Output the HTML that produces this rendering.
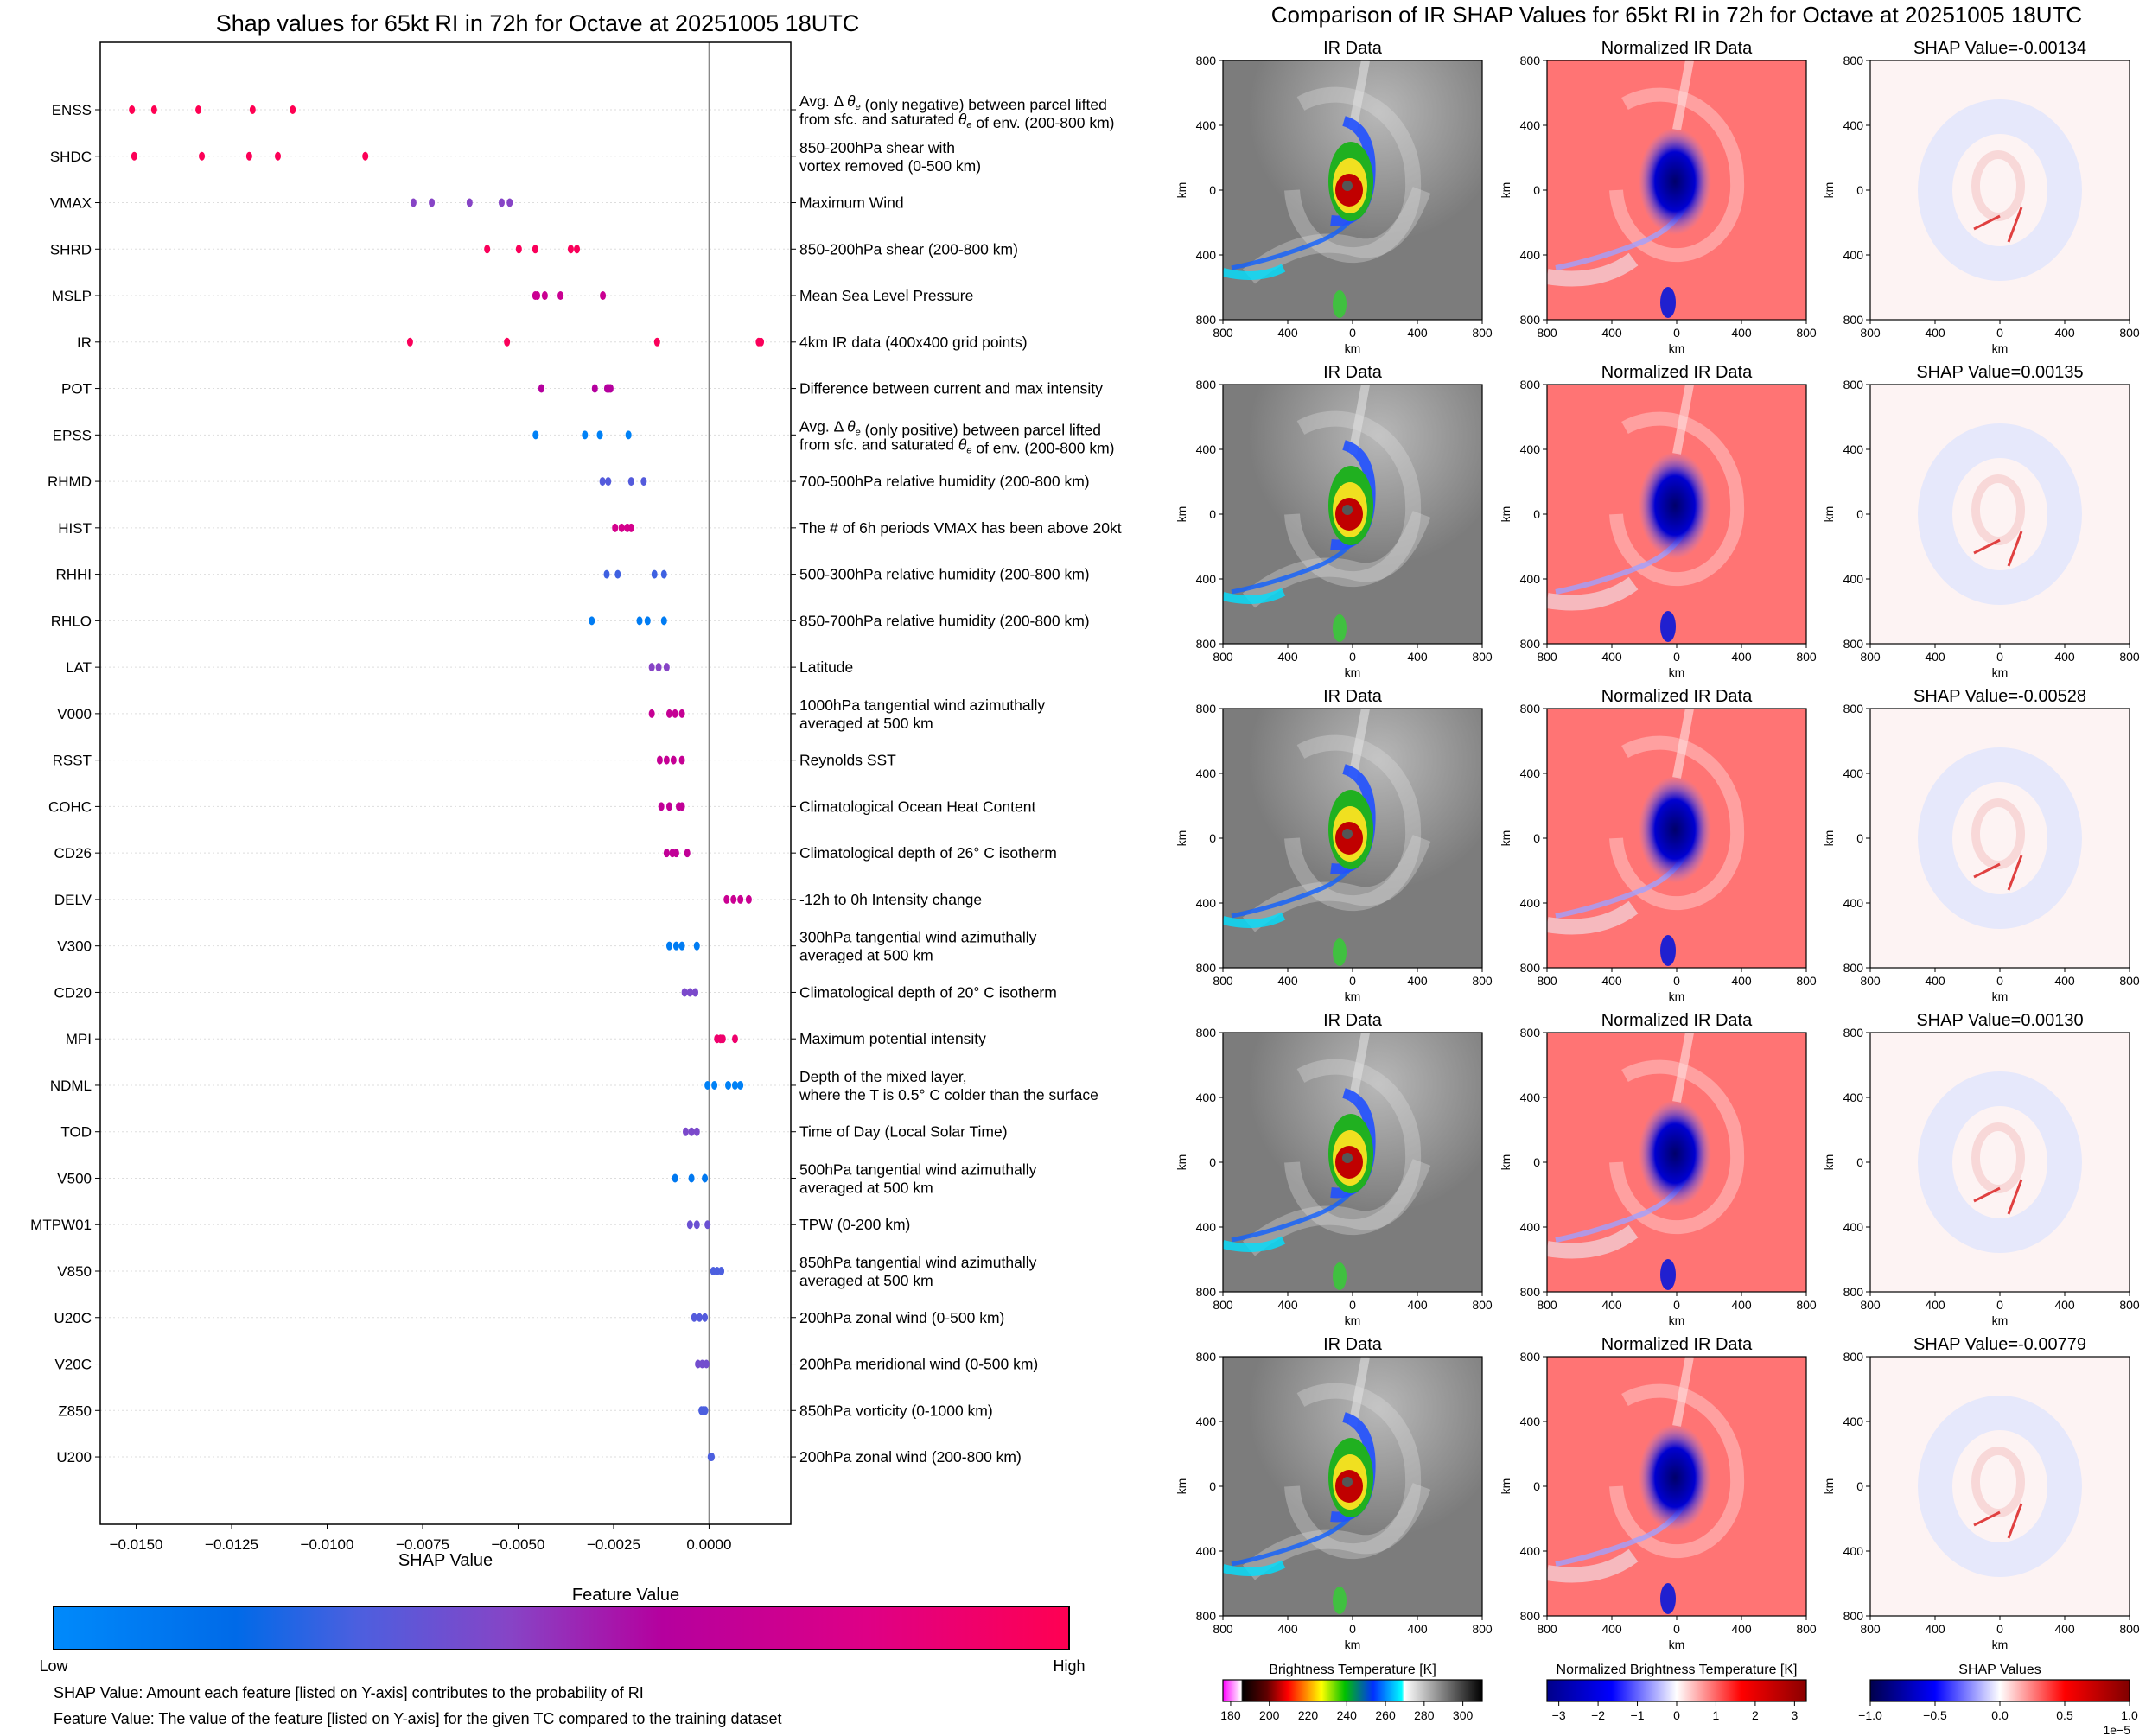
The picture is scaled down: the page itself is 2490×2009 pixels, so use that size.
<!DOCTYPE html>
<html><head><meta charset="utf-8"><style>
html,body{margin:0;padding:0;background:#fff;}
svg{display:block;font-family:"Liberation Sans","DejaVu Sans",sans-serif;}
</style></head><body>
<svg id="root" width="2490" height="2009" viewBox="0 0 2490 2009" xmlns="http://www.w3.org/2000/svg">
<defs>
 <linearGradient id="fvgrad" x1="0" x2="1" y1="0" y2="0">
  <stop offset="0" stop-color="#008afb"/><stop offset="0.18" stop-color="#006ae8"/>
  <stop offset="0.3" stop-color="#4c5fdf"/><stop offset="0.45" stop-color="#8744c6"/>
  <stop offset="0.6" stop-color="#b5009e"/><stop offset="0.8" stop-color="#de0086"/>
  <stop offset="1" stop-color="#ff0052"/>
 </linearGradient>
 <linearGradient id="irgrad" x1="0" x2="1">
  <stop offset="0" stop-color="#ff00ff"/><stop offset="0.07" stop-color="#ffffff"/>
  <stop offset="0.075" stop-color="#000"/><stop offset="0.17" stop-color="#600000"/>
  <stop offset="0.25" stop-color="#ff0000"/><stop offset="0.38" stop-color="#ffff00"/>
  <stop offset="0.47" stop-color="#00c000"/><stop offset="0.58" stop-color="#0030ff"/>
  <stop offset="0.69" stop-color="#00ffff"/><stop offset="0.7" stop-color="#ffffff"/>
  <stop offset="1" stop-color="#000"/>
 </linearGradient>
 <linearGradient id="nrgrad" x1="0" x2="1">
  <stop offset="0" stop-color="#00008a"/><stop offset="0.25" stop-color="#0000ff"/>
  <stop offset="0.5" stop-color="#ffffff"/><stop offset="0.75" stop-color="#ff0000"/>
  <stop offset="1" stop-color="#8a0000"/>
 </linearGradient>
 <linearGradient id="shgrad" x1="0" x2="1">
  <stop offset="0" stop-color="#00004c"/><stop offset="0.25" stop-color="#0000ff"/>
  <stop offset="0.5" stop-color="#ffffff"/><stop offset="0.75" stop-color="#ff0000"/>
  <stop offset="1" stop-color="#800000"/>
 </linearGradient>
 <radialGradient id="irlight" cx="0.6" cy="0.2" r="0.5"><stop offset="0" stop-color="#b8b8b8"/><stop offset="1" stop-color="#b8b8b8" stop-opacity="0"/></radialGradient>
 <radialGradient id="nblue" cx="0.5" cy="0.5" r="0.5"><stop offset="0" stop-color="#00006a"/><stop offset="0.55" stop-color="#0000d0"/><stop offset="1" stop-color="#8080ff" stop-opacity="0"/></radialGradient>
 <symbol id="sym-ir" viewBox="0 0 300 300">
  <rect width="300" height="300" fill="#7c7c7c"/>
  <rect width="300" height="300" fill="url(#irlight)"/>
  <path d="M150 150 m-70 0 a70 80 0 1 0 140 -10 a90 100 0 0 0 -130 -90" fill="none" stroke="#dedede" stroke-width="18" opacity="0.35"/>
  <path d="M30 250 Q90 200 150 215 Q200 230 230 150" fill="none" stroke="#dcdcdc" stroke-width="22" opacity="0.35"/>
  <path d="M165 0 L150 80" stroke="#e0e0e0" stroke-width="10" opacity="0.6"/>
  <path d="M10 240 Q60 230 110 210 Q160 190 170 140" fill="none" stroke="#1060ff" stroke-width="5" opacity="0.8"/>
  <path d="M0 245 Q40 255 70 240" fill="none" stroke="#00e0ff" stroke-width="10" opacity="0.8"/>
  <path d="M140 70 Q175 80 170 140 Q165 190 125 185" fill="none" stroke="#2050ff" stroke-width="12" opacity="0.9"/>
  <ellipse cx="148" cy="140" rx="26" ry="46" fill="#20b020"/>
  <ellipse cx="147" cy="145" rx="20" ry="32" fill="#f0e020"/>
  <ellipse cx="146" cy="150" rx="16" ry="19" fill="#c00000"/>
  <circle cx="144" cy="145" r="6" fill="#555"/>
  <ellipse cx="135" cy="282" rx="8" ry="16" fill="#40c040"/>
 </symbol>
 <symbol id="sym-nr" viewBox="0 0 300 300">
  <rect width="300" height="300" fill="#ff7474"/>
  <path d="M150 150 m-70 0 a70 80 0 1 0 140 -10 a90 100 0 0 0 -130 -90" fill="none" stroke="#ffd8d8" stroke-width="16" opacity="0.45"/>
  <path d="M10 240 Q60 230 110 210 Q160 190 170 140" fill="none" stroke="#a0a0ff" stroke-width="6" opacity="0.8"/>
  <path d="M0 250 Q60 260 100 230" fill="none" stroke="#f0e8f0" stroke-width="18" opacity="0.6"/>
  <path d="M165 0 L150 80" stroke="#ffe0e0" stroke-width="10" opacity="0.6"/>
  <ellipse cx="148" cy="140" rx="42" ry="62" fill="url(#nblue)"/>
  <ellipse cx="140" cy="280" rx="9" ry="18" fill="#2020d0"/>
 </symbol>
 <symbol id="sym-sh" viewBox="0 0 300 300">
  <rect width="300" height="300" fill="#fdf3f3"/>
  <ellipse cx="150" cy="150" rx="75" ry="85" fill="none" stroke="#e6e8fb" stroke-width="40"/>
  <ellipse cx="148" cy="145" rx="26" ry="36" fill="none" stroke="#f8d8d8" stroke-width="10"/>
  <path d="M120 195 L150 180 M160 210 L175 170" stroke="#e04040" stroke-width="3"/>
 </symbol>
</defs>

<text x="622" y="36" font-size="27" text-anchor="middle">Shap values for 65kt RI in 72h for Octave at 20251005 18UTC</text>
<g id="chart"></g>

<text x="724" y="1852" font-size="20" text-anchor="middle">Feature Value</text>
<rect x="62" y="1859" width="1175" height="50" fill="url(#fvgrad)" stroke="#000" stroke-width="2"/>
<text x="62" y="1934" font-size="18" text-anchor="middle">Low</text>
<text x="1237" y="1934" font-size="18" text-anchor="middle">High</text>
<text x="62" y="1965" font-size="18">SHAP Value: Amount each feature [listed on Y-axis] contributes to the probability of RI</text>
<text x="62" y="1995" font-size="18">Feature Value: The value of the feature [listed on Y-axis] for the given TC compared to the training dataset</text>

<text x="1940" y="26" font-size="26" text-anchor="middle">Comparison of IR SHAP Values for 65kt RI in 72h for Octave at 20251005 18UTC</text>
<g id="panels"></g>
<g id="cbars"></g>
</svg>
<script>
const features=["ENSS","SHDC","VMAX","SHRD","MSLP","IR","POT","EPSS","RHMD","HIST","RHHI","RHLO","LAT","V000","RSST","COHC","CD26","DELV","V300","CD20","MPI","NDML","TOD","V500","MTPW01","V850","U20C","V20C","Z850","U200"];
const descriptions=[
["Avg. Δ θe (only negative) between parcel lifted","from sfc. and saturated θe of env. (200-800 km)"],
["850-200hPa shear with","vortex removed (0-500 km)"],["Maximum Wind"],["850-200hPa shear (200-800 km)"],["Mean Sea Level Pressure"],
["4km IR data (400x400 grid points)"],["Difference between current and max intensity"],
["Avg. Δ θe (only positive) between parcel lifted","from sfc. and saturated θe of env. (200-800 km)"],
["700-500hPa relative humidity (200-800 km)"],["The # of 6h periods VMAX has been above 20kt"],["500-300hPa relative humidity (200-800 km)"],
["850-700hPa relative humidity (200-800 km)"],["Latitude"],["1000hPa tangential wind azimuthally","averaged at 500 km"],["Reynolds SST"],
["Climatological Ocean Heat Content"],["Climatological depth of 26° C isotherm"],["-12h to 0h Intensity change"],
["300hPa tangential wind azimuthally","averaged at 500 km"],["Climatological depth of 20° C isotherm"],["Maximum potential intensity"],
["Depth of the mixed layer,","where the T is 0.5° C colder than the surface"],["Time of Day (Local Solar Time)"],
["500hPa tangential wind azimuthally","averaged at 500 km"],["TPW (0-200 km)"],["850hPa tangential wind azimuthally","averaged at 500 km"],
["200hPa zonal wind (0-500 km)"],["200hPa meridional wind (0-500 km)"],["850hPa vorticity (0-1000 km)"],["200hPa zonal wind (200-800 km)"]];
const shapValues=[
[-0.01511,-0.01453,-0.01337,-0.01195,-0.01090],[-0.01505,-0.01328,-0.01204,-0.01129,-0.00900],
[-0.00774,-0.00726,-0.00627,-0.00543,-0.00522],[-0.00581,-0.00498,-0.00455,-0.00362,-0.00346],
[-0.00455,-0.00450,-0.00430,-0.00389,-0.00278],[-0.00783,-0.00529,-0.00136,0.00130,0.00136],
[-0.00439,-0.00299,-0.00267,-0.00262,-0.00258],[-0.00454,-0.00325,-0.00286,-0.00211],
[-0.00279,-0.00264,-0.00204,-0.00171],[-0.00246,-0.00229,-0.00214,-0.00204],
[-0.00268,-0.00239,-0.00143,-0.00118],[-0.00307,-0.00182,-0.00161,-0.00118],
[-0.00150,-0.00132,-0.00111],[-0.00150,-0.00104,-0.00089,-0.00071],[-0.00129,-0.00111,-0.00093,-0.00071],
[-0.00125,-0.00104,-0.00079,-0.00071],[-0.00111,-0.00096,-0.00086,-0.00057],[0.00046,0.00064,0.00082,0.00104],
[-0.00104,-0.00086,-0.00071,-0.00032],[-0.00064,-0.00050,-0.00036],[0.00021,0.00030,0.00036,0.00068],
[-0.00004,0.00014,0.00050,0.00068,0.00082],[-0.00061,-0.00046,-0.00032],[-0.00089,-0.00046,-0.00011],
[-0.00050,-0.00032,-0.00004],[0.00011,0.00021,0.00032],[-0.00039,-0.00025,-0.00011],
[-0.00029,-0.00018,-0.00007],[-0.00020,-0.00016,-0.00010],[0.00004,0.00007]];
const featureValues=[1,0.98,0.45,0.97,0.7,0.97,0.6,0.05,0.32,0.75,0.28,0.08,0.45,0.68,0.68,0.66,0.66,0.7,0.08,0.42,0.9,0.05,0.42,0.1,0.38,0.3,0.32,0.4,0.3,0.3];
const xTicks=[-0.015,-0.0125,-0.01,-0.0075,-0.005,-0.0025,0];
const xTickLabels=["−0.0150","−0.0125","−0.0100","−0.0075","−0.0050","−0.0025","0.0000"];
const cbIRTicks=[180,200,220,240,260,280,300];
const cbNRTicks=[-3,-2,-1,0,1,2,3];
const cbSHTicks=[-1.0,-0.5,0.0,0.5,1.0];
const panelShap=["-0.00134","0.00135","-0.00528","0.00130","-0.00779"];

const NS="http://www.w3.org/2000/svg";
function mk(tag,attrs,parent,txt){const e=document.createElementNS(NS,tag);for(const k in attrs)e.setAttribute(k,attrs[k]);if(txt!==undefined)e.textContent=txt;parent.appendChild(e);return e;}
const AX={l:116,r:915,t:49,b:1764};
const xMin=-0.01594,xMax=0.00214;
function xs(v){return AX.l+(v-xMin)/(xMax-xMin)*(AX.r-AX.l);}
function ys(i){return 127+i*53.76;}
const stops=[[0,[0,138,251]],[0.18,[0,106,232]],[0.3,[76,95,223]],[0.45,[135,68,198]],[0.6,[181,0,158]],[0.8,[222,0,134]],[1,[255,0,82]]];
function cmap(t){for(let i=1;i<stops.length;i++){if(t<=stops[i][0]){const a=stops[i-1],b=stops[i];const f=(t-a[0])/(b[0]-a[0]);const c=a[1].map((v,k)=>Math.round(v+(b[1][k]-v)*f));return `rgb(${c})`;}}return "rgb(255,0,82)";}

const ch=document.getElementById('chart');
features.forEach((f,i)=>{
 const y=ys(i);
 const g=mk('line',{x1:AX.l,x2:AX.r,y1:y,y2:y,stroke:'#ddd','stroke-width':1,'stroke-dasharray':'2,3'},ch);
 
 
});
const zl=mk('line',{x1:xs(0),x2:xs(0),y1:AX.t,y2:AX.b,stroke:'#888','stroke-width':1.5},ch);


const fr=mk('rect',{x:AX.l,y:AX.t,width:AX.r-AX.l,height:AX.b-AX.t,fill:'none',stroke:'#000','stroke-width':1.5},ch);


features.forEach((f,i)=>{
 const y=ys(i);
 mk('line',{x1:AX.l-6,x2:AX.l,y1:y,y2:y,stroke:'#000'},ch);
 mk('line',{x1:AX.r,x2:AX.r+6,y1:y,y2:y,stroke:'#000'},ch);
 const t=mk('text',{x:AX.l-10,y:y+6,'font-size':17,'text-anchor':'end'},ch,f);
 
 
 const lines=descriptions[i];
 const y0=lines.length==1?y+6:y-4;
 lines.forEach((ln,j)=>{
  const tx=mk('text',{x:AX.r+10,y:y0+j*21,'font-size':17.5},ch);
  
  
  const parts=ln.split('θe');
  parts.forEach((p,k)=>{
   const s=document.createElementNS(NS,'tspan');s.textContent=p;tx.appendChild(s);
   if(k<parts.length-1){mk('tspan',{'font-style':'italic'},tx,'θ');mk('tspan',{'font-size':11,dy:4,'font-style':'italic'},tx,'e');mk('tspan',{dy:-4},tx,'');}
  });
 });
 shapValues[i].forEach((v,j)=>{
  const c=mk('ellipse',{cx:xs(v),cy:y,rx:3.5,ry:5,fill:cmap(featureValues[i])},ch);
  
  
 });
});
xTicks.forEach((v,i)=>{
 const x=xs(v);
 mk('line',{x1:x,x2:x,y1:AX.b,y2:AX.b+6,stroke:'#000'},ch);
 const t=mk('text',{x:x,y:AX.b+29,'font-size':17,'text-anchor':'middle'},ch,xTickLabels[i]);
 
 
});
const xl=mk('text',{x:(AX.l+AX.r)/2,y:1812,'font-size':20,'text-anchor':'middle'},ch,'SHAP Value');



const pg=document.getElementById('panels');
const colsX=[1415,1790,2164], titles=["IR Data","Normalized IR Data"], syms=["sym-ir","sym-nr","sym-sh"];
const tickLbl=["800","400","0","400","800"];
for(let r=0;r<5;r++){
 const top=70+r*375;
 for(let c=0;c<3;c++){
  const x0=colsX[c];
  const u=mk('use',{href:'#'+syms[c],x:x0,y:top,width:300,height:300},pg);
  
  
  mk('rect',{x:x0,y:top,width:300,height:300,fill:'none',stroke:'#000','stroke-width':1.2},pg);
  const ttl=c<2?titles[c]:'SHAP Value='+panelShap[r];
  const t=mk('text',{x:x0+150,y:top-8,'font-size':20,'text-anchor':'middle'},pg,ttl);
  
  
  for(let k=0;k<5;k++){
   const p=k*75;
   mk('line',{x1:x0-5,x2:x0,y1:top+p,y2:top+p,stroke:'#000'},pg);
   mk('text',{x:x0-8,y:top+p+5,'font-size':14,'text-anchor':'end'},pg,tickLbl[k]);
   mk('line',{x1:x0+p,x2:x0+p,y1:top+300,y2:top+305,stroke:'#000'},pg);
   mk('text',{x:x0+p,y:top+320,'font-size':14,'text-anchor':'middle'},pg,tickLbl[k]);
  }
  mk('text',{x:x0+150,y:top+338,'font-size':14,'text-anchor':'middle'},pg,'km');
  mk('text',{x:x0-43,y:top+150,'font-size':14,'text-anchor':'middle',transform:`rotate(-90 ${x0-43} ${top+150})`},pg,'km');
 }
}
const cb=document.getElementById('cbars');
const cbDefs=[[1415,'url(#irgrad)','Brightness Temperature [K]',cbIRTicks,176,310,v=>String(v)],
 [1790,'url(#nrgrad)','Normalized Brightness Temperature [K]',cbNRTicks,-3.3,3.3,v=>v<0?'−'+(-v):String(v)],
 [2164,'url(#shgrad)','SHAP Values',cbSHTicks,-1,1,v=>v<0?'−'+(-v).toFixed(1):v.toFixed(1)]];
cbDefs.forEach((d,i)=>{
 const [x0,fill,title,ticks,lo,hi,fmt]=d;
 const t=mk('text',{x:x0+150,y:1937,'font-size':16,'text-anchor':'middle'},cb,title);
 
 
 const r=mk('rect',{x:x0,y:1944,width:300,height:25,fill:fill,stroke:'#000','stroke-width':1.2},cb);
 
 
 ticks.forEach(v=>{
  const x=x0+(v-lo)/(hi-lo)*300;
  mk('line',{x1:x,x2:x,y1:1969,y2:1974,stroke:'#000'},cb);
  mk('text',{x:x,y:1990,'font-size':14,'text-anchor':'middle'},cb,fmt(v));
 });
});
const ex=mk('text',{x:2465,y:2007,'font-size':14,'text-anchor':'end'},cb,'1e−5');


</script>
</body></html>
